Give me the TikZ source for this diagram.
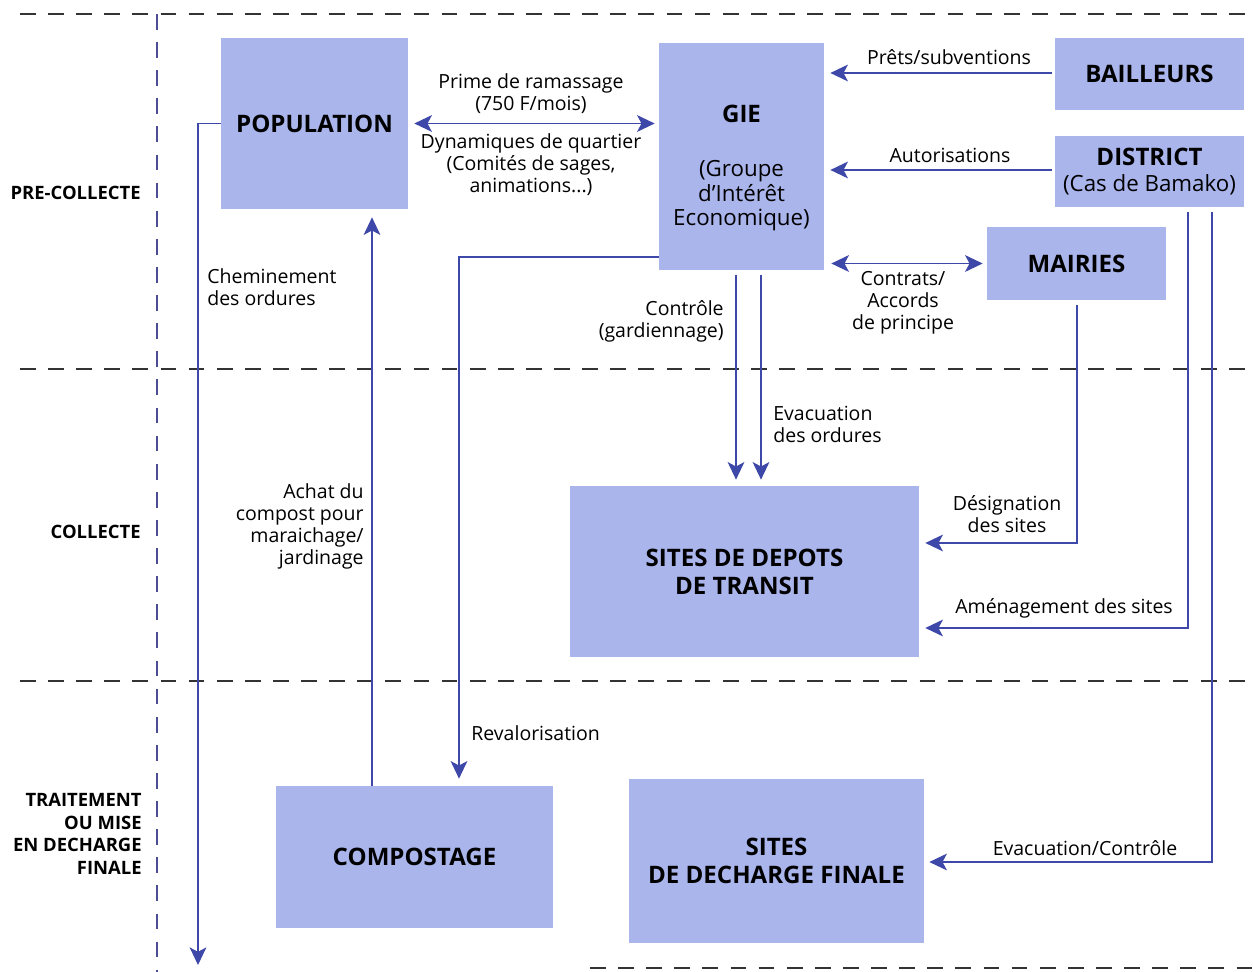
\documentclass[tikz,border=0pt]{standalone}
\usepackage{fontspec}
\setmainfont{Open Sans}
\usetikzlibrary{arrows.meta}
\definecolor{boxblue}{RGB}{170,181,236}
\definecolor{arrblue}{RGB}{62,72,168}
\newcommand{\subtxt}{\mdseries\fontsize{12.7}{14}\selectfont}
\tikzset{
  box/.style={fill=boxblue, inner sep=0pt, align=center,
    font=\bfseries\fontsize{13.7}{16}\selectfont},
  arr/.style={draw=arrblue, line width=1pt, -{Stealth[length=10pt,width=9.5pt,inset=2.5pt]}},
  darr/.style={draw=arrblue, line width=1pt,
    {Stealth[length=10pt,width=9.5pt,inset=2.5pt]}-{Stealth[length=10pt,width=9.5pt,inset=2.5pt]}},
  lbl/.style={font=\fontsize{11.1}{12.5}\selectfont, align=center, inner sep=0pt},
  phase/.style={font=\bfseries\fontsize{10.5}{12.8}\selectfont, align=right,
    anchor=east, inner sep=0pt},
  sep/.style={draw=black!80, line width=0.8pt, dash pattern=on 9pt off 7pt},
}
\begin{document}
\begin{tikzpicture}[x=0.02cm, y=-0.02cm]
  \useasboundingbox (0,0) rectangle (1253,972);
  % phase separators
  \draw[sep] (20,14) -- (1253,14);
  \draw[sep] (20,369) -- (1253,369);
  \draw[sep] (20,681) -- (1253,681);
  \draw[sep] (590,968) -- (1253,968);
  \draw[sep, draw=black!60!blue!70] (157,14) -- (157,972);
  \node[phase] (pre) at (141,193) {PRE-COLLECTE};
  \node[phase] (col) at (141,532) {COLLECTE};
  \node[phase] (trt) at (142,834) {TRAITEMENT\\OU MISE\\EN DECHARGE\\FINALE};

  % boxes
  \node[box, minimum width=3.74cm, minimum height=3.42cm] (pop) at (314.5,123.5) {POPULATION};
  \node[box, minimum width=3.3cm, minimum height=4.54cm] (gie) at (741.5,156.5) {};
  \node[align=center, inner sep=0pt, font=\subtxt] (giet) at (741.5,168)
    {{\bfseries\fontsize{13.7}{16}\selectfont GIE}\\[17pt](Groupe\\d'Intérêt\\Economique)};
  \node[box, minimum width=3.78cm, minimum height=1.44cm] (bail) at (1149.5,74) {BAILLEURS};
  \node[box, minimum width=3.78cm, minimum height=1.42cm] (dist) at (1149.5,171.5)
    {DISTRICT\\[-1.5pt]\subtxt (Cas de Bamako)};
  \node[box, minimum width=3.58cm, minimum height=1.46cm] (mai) at (1076.5,263.5) {MAIRIES};
  \node[box, minimum width=6.98cm, minimum height=3.42cm] (dep) at (744.5,571.5) {SITES DE DEPOTS\\DE TRANSIT};
  \node[box, minimum width=5.54cm, minimum height=2.84cm] (comp) at (414.5,857) {COMPOSTAGE};
  \node[box, minimum width=5.9cm, minimum height=3.28cm] (fin) at (776.5,861) {SITES\\DE DECHARGE FINALE};

  % connectors
  \coordinate (chem) at (198,965);
  \draw[arr] (pop.west) -- (chem |- pop.west) -- (chem);
  \node[lbl, align=left, anchor=north west] (lchem) at (207,268) {Cheminement\\des ordures};

  \coordinate (achat) at (372,0);
  \draw[arr, shorten >=0.16cm] (comp.north -| achat) -- (pop.south -| achat);
  \node[lbl, align=right, anchor=north east] (lachat) at (364,483) {Achat du\\compost pour\\maraichage/\\jardinage};

  \draw[darr, shorten <=0.12cm, shorten >=0.08cm] (pop.east) -- (gie.west |- pop.east);
  \node[lbl, anchor=south] (lprime) at (531,114) {Prime de ramassage\\(750 F/mois)};
  \node[lbl, anchor=north] (ldyn) at (531,133) {Dynamiques de quartier\\(Comités de sages,\\animations...)};

  \draw[arr, shorten <=0.06cm, shorten >=0.12cm] (bail.west |- 0,73) -- (gie.east |- 0,73);
  \node[lbl, anchor=south] (lpret) at (949,65) {Prêts/subventions};
  \draw[arr, shorten <=0.06cm, shorten >=0.12cm] (dist.west |- 0,170) -- (gie.east |- 0,170);
  \node[lbl, anchor=south] (laut) at (950,163) {Autorisations};
  \draw[darr, shorten <=0.14cm, shorten >=0.08cm] (gie.east |- mai.west) -- (mai.west);
  \node[lbl, anchor=north] (lcontrat) at (903,271) {Contrats/\\Accords\\de principe};

  \coordinate (ctrl) at (736,0);
  \coordinate (evac) at (761,0);
  \draw[arr, shorten <=0.1cm, shorten >=0.12cm] (gie.south -| ctrl) -- (dep.north -| ctrl);
  \draw[arr, shorten <=0.1cm, shorten >=0.12cm] (gie.south -| evac) -- (dep.north -| evac);
  \node[lbl, align=right, anchor=north east] (lctrl) at (724,300) {Contrôle\\(gardiennage)};
  \node[lbl, align=left, anchor=north west] (levac) at (773,406) {Evacuation\\des ordures};

  \coordinate (reval) at (459,257);
  \draw[arr, shorten >=0.14cm] (gie.west |- reval) -- (reval) -- (reval |- comp.north);
  \node[lbl, anchor=west] (lreval) at (471,733) {Revalorisation};

  \coordinate (desig) at (1077,543);
  \draw[arr, shorten <=0.1cm, shorten >=0.12cm] (mai.south -| desig) -- (desig) -- (dep.east |- desig);
  \node[lbl, anchor=north] (ldesig) at (1007,495) {Désignation\\des sites};

  \coordinate (amen) at (1188,628);
  \draw[arr, shorten <=0.1cm, shorten >=0.12cm] (dist.south -| amen) -- (amen) -- (dep.east |- amen);
  \node[lbl, anchor=south] (lamen) at (1064,619) {Aménagement des sites};

  \coordinate (evfin) at (1212,862);
  \draw[arr, shorten <=0.1cm, shorten >=0.1cm] (dist.south -| evfin) -- (evfin) -- (fin.east |- evfin);
  \node[lbl, anchor=south] (levfin) at (1085,856) {Evacuation/Contrôle};
\end{tikzpicture}
\end{document}
